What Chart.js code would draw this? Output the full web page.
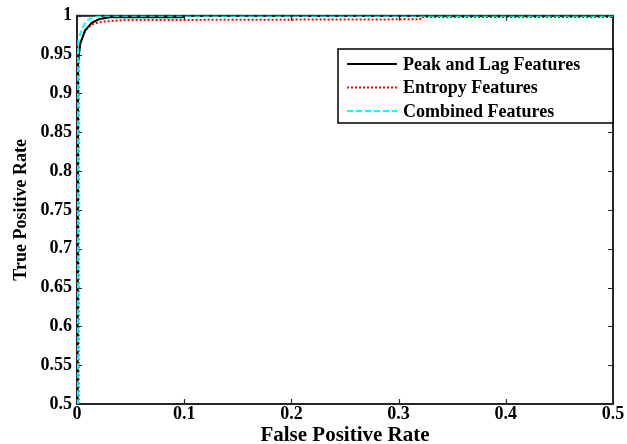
<!DOCTYPE html>
<html>
<head>
<meta charset="utf-8">
<script src="https://cdn.jsdelivr.net/npm/chart.js@4"></script>
<style>
  html, body { margin: 0; padding: 0; background: #fff; }
  #wrap { width: 627px; height: 444px; }
</style>
</head>
<body>
<div id="wrap"><canvas id="roc"></canvas></div>
<script>
// ── data ──────────────────────────────────────────────────────
const seriesNames = ['Peak and Lag Features', 'Entropy Features', 'Combined Features'];

const peakFpr = [0, 0.0005, 0.001, 0.003, 0.0075, 0.0137, 0.021, 0.031, 0.099, 0.1, 0.5];
const peakTpr = [0, 0.5, 0.94, 0.964, 0.981, 0.991, 0.9958, 0.998, 0.998, 1, 1];

const entFpr = [0, 0.0015, 0.0015, 0.0035, 0.0075, 0.0137, 0.0245, 0.046, 0.32, 0.321, 0.5];
const entTpr = [0, 0.5, 0.951, 0.966, 0.981, 0.989, 0.9927, 0.9945, 0.9955, 0.9985, 0.9985];

const combFpr = [0, 0.0008, 0.0008, 0.0012, 0.0044, 0.009, 0.015, 0.024, 0.5];
const combTpr = [0, 0.5, 0.946, 0.968, 0.983, 0.9936, 0.9987, 1, 1];

const xTicks = [0, 0.1, 0.2, 0.3, 0.4, 0.5];
const xTickLabels = ['0', '0.1', '0.2', '0.3', '0.4', '0.5'];
const yTicks = [0.5, 0.55, 0.6, 0.65, 0.7, 0.75, 0.8, 0.85, 0.9, 0.95, 1];
const yTickLabels = ['0.5', '0.55', '0.6', '0.65', '0.7', '0.75', '0.8', '0.85', '0.9', '0.95', '1'];

const pts = (xs, ys) => xs.map((x, i) => ({ x, y: ys[i] }));
const SERIF = '"Liberation Serif", "Times New Roman", serif';
const FRAME = '#262626';

// ── box + inward ticks, MATLAB style ──────────────────────────
const framePlugin = {
  id: 'frame',
  beforeDatasetsDraw(chart) {
    const { ctx, chartArea: a, scales } = chart;
    ctx.save();
    ctx.strokeStyle = FRAME;
    ctx.lineWidth = 2;
    ctx.strokeRect(a.left, a.top, a.right - a.left, a.bottom - a.top);
    ctx.lineWidth = 1.2;
    ctx.beginPath();
    scales.x.ticks.forEach(t => {
      const px = Math.round(scales.x.getPixelForValue(t.value)) + 0.5;
      ctx.moveTo(px, a.bottom); ctx.lineTo(px, a.bottom - 5);
      ctx.moveTo(px, a.top); ctx.lineTo(px, a.top + 5);
    });
    scales.y.ticks.forEach(t => {
      const py = Math.round(scales.y.getPixelForValue(t.value)) + 0.5;
      ctx.moveTo(a.left, py); ctx.lineTo(a.left + 5, py);
      ctx.moveTo(a.right, py); ctx.lineTo(a.right - 5, py);
    });
    ctx.stroke();
    ctx.restore();
  }
};

// ── boxed legend inside the plot ──────────────────────────────
const legendBox = {
  id: 'legendBox',
  afterDatasetsDraw(chart) {
    const { ctx, chartArea: a } = chart;
    const x0 = 338, y0 = 49, w = a.right - x0, h = 74;
    ctx.save();
    ctx.fillStyle = '#fff';
    ctx.fillRect(x0, y0, w, h);
    ctx.strokeStyle = '#000';
    ctx.lineWidth = 1.5;
    ctx.strokeRect(x0, y0, w, h);
    ctx.font = 'bold 18px ' + SERIF;
    ctx.textBaseline = 'middle';
    chart.data.datasets.forEach((ds, i) => {
      const y = y0 + 15 + i * 23.5;
      ctx.strokeStyle = ds.borderColor;
      ctx.lineWidth = ds.borderWidth;
      ctx.setLineDash(ds.borderDash || []);
      ctx.beginPath();
      ctx.moveTo(347, y); ctx.lineTo(397, y);
      ctx.stroke();
      ctx.setLineDash([]);
      ctx.fillStyle = '#000';
      ctx.fillText(ds.label, 403, y + 1);
    });
    ctx.restore();
  }
};

new Chart(document.getElementById('roc'), {
  type: 'line',
  data: {
    datasets: [
      { label: seriesNames[0], data: pts(peakFpr, peakTpr), borderColor: '#000000', borderWidth: 2, order: 2 },
      { label: seriesNames[1], data: pts(entFpr, entTpr), borderColor: '#ff0000', borderWidth: 2, borderDash: [2, 2], order: 3 },
      { label: seriesNames[2], data: pts(combFpr, combTpr), borderColor: '#00ffff', borderWidth: 2, borderDash: [6, 3], order: 1 },
    ]
  },
  options: {
    responsive: true, maintainAspectRatio: false, animation: false,
    elements: { point: { radius: 0 }, line: { tension: 0, fill: false } },
    layout: { padding: { top: 15, right: 14, left: 0, bottom: 0 } },
    plugins: { legend: { display: false }, tooltip: { enabled: false } },
    scales: {
      x: {
        type: 'linear', min: 0, max: 0.5,
        afterBuildTicks: s => { s.ticks = xTicks.map(v => ({ value: v })); },
        afterFit: s => { s.height = 40; },
        grid: { display: false, drawTicks: false },
        border: { display: false },
        ticks: {
          color: '#000', padding: 0, maxRotation: 0, autoSkip: false,
          font: { family: SERIF, size: 18, weight: 'bold' },
          callback: (v, i) => xTickLabels[i],
        },
        title: {
          display: true, text: 'False Positive Rate', color: '#000',
          font: { family: SERIF, size: 21, weight: 'bold', lineHeight: 1 },
          padding: { top: 0, bottom: -2 },
        },
      },
      y: {
        type: 'linear', min: 0.5, max: 1,
        afterBuildTicks: s => { s.ticks = yTicks.map(v => ({ value: v })); },
        afterFit: s => { s.width = 77; },
        grid: { display: false, drawTicks: false },
        border: { display: false },
        ticks: {
          color: '#000', padding: 5, autoSkip: false,
          font: { family: SERIF, size: 18, weight: 'bold' },
          callback: (v, i) => yTickLabels[i],
        },
        title: {
          display: true, text: 'True Positive Rate', color: '#000',
          font: { family: SERIF, size: 18, weight: 'bold', lineHeight: 1 },
          padding: { top: 12, bottom: 0 },
        },
      },
    },
  },
  plugins: [framePlugin, legendBox],
});
</script>
</body>
</html>
